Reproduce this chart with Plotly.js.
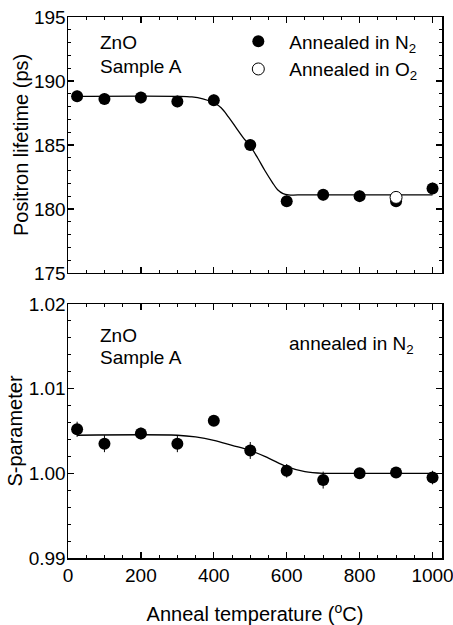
<!DOCTYPE html>
<html>
<head>
<meta charset="utf-8">
<script src="https://cdn.plot.ly/plotly-3.0.1.min.js"></script>
<style>html,body{margin:0;padding:0;background:#fff;}#chart{width:453px;height:625px;}</style>
</head>
<body>
<div id="chart"></div>
<script>
// ---- data ----
const temps = [25, 100, 200, 300, 400, 500, 600, 700, 800, 900, 1000];
const lifetimeN2 = [188.8, 188.6, 188.7, 188.4, 188.5, 185.0, 180.6, 181.1, 181.0, 180.6, 181.6];
const lifetimeErr = [0.45, 0.45, 0.45, 0.45, 0.45, 0.45, 0.45, 0.45, 0.45, 0.45, 0.45];
const tempsO2 = [900];
const lifetimeO2 = [180.9];
const fitTemps1 = [25, 300, 340, 370, 400, 420, 440, 460, 480, 500, 520, 540, 560, 575, 590, 605, 650, 800, 1000];
const fitLifetime = [188.8, 188.8, 188.75, 188.6, 188.3, 187.9, 187.2, 186.4, 185.6, 184.9, 184.0, 183.0, 182.1, 181.5, 181.2, 181.1, 181.1, 181.1, 181.1];
const sParam = [1.0052, 1.0035, 1.0047, 1.0035, 1.0062, 1.0027, 1.0003, 0.9992, 1.0000, 1.0001, 0.9995];
const sErr = [0.0009, 0.001, 0.0007, 0.001, 0.0006, 0.001, 0.0008, 0.001, 0.0006, 0.0006, 0.0008];
const fitTemps2 = [25, 300, 350, 400, 450, 500, 550, 600, 650, 700, 750, 1000];
const fitS = [1.0045, 1.0045, 1.0043, 1.0039, 1.0033, 1.0027, 1.0018, 1.0008, 1.0002, 1.0000, 1.0000, 1.0000];
const xTickVals = [0, 200, 400, 600, 800, 1000];

const FONT = '"Liberation Sans", Arial, Helvetica, sans-serif';
const FS = 19;

const traces = [
  {x: fitTemps1, y: fitLifetime, xaxis: 'x', yaxis: 'y', mode: 'lines', line: {color: '#000', width: 1.3, shape: 'spline'}, showlegend: false, hoverinfo: 'skip'},
  {x: temps, y: lifetimeN2, xaxis: 'x', yaxis: 'y', mode: 'markers', name: 'Annealed in N<sub>2</sub>',
   marker: {color: '#000', size: 12, symbol: 'circle'},
   error_y: {type: 'data', array: lifetimeErr, color: '#000', thickness: 1, width: 0}},
  {x: tempsO2, y: lifetimeO2, xaxis: 'x', yaxis: 'y', mode: 'markers', name: 'Annealed in O<sub>2</sub>',
   marker: {color: '#fff', size: 12, symbol: 'circle', line: {color: '#000', width: 1}}},
  {x: fitTemps2, y: fitS, xaxis: 'x2', yaxis: 'y2', mode: 'lines', line: {color: '#000', width: 1.3, shape: 'spline'}, showlegend: false, hoverinfo: 'skip'},
  {x: temps, y: sParam, xaxis: 'x2', yaxis: 'y2', mode: 'markers', showlegend: false,
   marker: {color: '#000', size: 12, symbol: 'circle'},
   error_y: {type: 'data', array: sErr, color: '#000', thickness: 1, width: 0}}
];

const axCommon = {
  showgrid: false, zeroline: false, showline: true, linecolor: '#000', linewidth: 1.5,
  mirror: 'ticks', ticks: 'inside', ticklen: 6, tickwidth: 1.2, tickcolor: '#000',
  ticklabeloverflow: 'allow',
  tickfont: {family: FONT, size: FS, color: '#000'}
};

const layout = {
  width: 453, height: 625,
  margin: {l: 68, r: 11, t: 17, b: 67},
  paper_bgcolor: '#fff', plot_bgcolor: '#fff',
  font: {family: FONT, size: FS, color: '#000'},
  showlegend: true,
  legend: {x: 0.426, y: 0.99, xanchor: 'left', yanchor: 'top', bgcolor: 'rgba(0,0,0,0)',
           font: {family: FONT, size: FS, color: '#000'}, itemwidth: 52, tracegroupgap: 0},
  xaxis: Object.assign({}, axCommon, {domain: [0, 1], anchor: 'y', range: [0, 1026], tickvals: xTickVals,
          showticklabels: false, minor: {dtick: 50, tick0: 0, ticks: 'inside', ticklen: 3, tickcolor: '#000', tickwidth: 1}}),
  yaxis: Object.assign({}, axCommon, {domain: [0.527, 1], anchor: 'x', range: [175, 195], dtick: 5, ticklabelstandoff: -3,
          minor: {dtick: 1, ticks: 'inside', ticklen: 3, tickcolor: '#000', tickwidth: 1},
          title: {text: 'Positron lifetime (ps)', standoff: 0, font: {family: FONT, size: 20, color: '#000'}}}),
  xaxis2: Object.assign({}, axCommon, {domain: [0, 1], anchor: 'y2', range: [0, 1026], tickvals: xTickVals,
          minor: {dtick: 50, tick0: 0, ticks: 'inside', ticklen: 3, tickcolor: '#000', tickwidth: 1},
          title: {text: 'Anneal temperature (<sup>o</sup>C)', font: {family: FONT, size: 20, color: '#000'}}}),
  yaxis2: Object.assign({}, axCommon, {domain: [0, 0.4695], anchor: 'x2', range: [0.99, 1.02], dtick: 0.01, tickformat: '.2f', ticklabelstandoff: -3,
          minor: {dtick: 0.002, ticks: 'inside', ticklen: 3, tickcolor: '#000', tickwidth: 1},
          title: {text: 'S-parameter', standoff: 0, font: {family: FONT, size: 20, color: '#000'}}}),
  annotations: [
    {xref: 'paper', yref: 'paper', x: 0.079, y: 0.952, xanchor: 'left', yanchor: 'middle', text: 'ZnO', showarrow: false, font: {family: FONT, size: FS, color: '#000'}},
    {xref: 'paper', yref: 'paper', x: 0.079, y: 0.909, xanchor: 'left', yanchor: 'middle', text: 'Sample A', showarrow: false, font: {family: FONT, size: FS, color: '#000'}},
    {xref: 'paper', yref: 'paper', x: 0.079, y: 0.412, xanchor: 'left', yanchor: 'middle', text: 'ZnO', showarrow: false, font: {family: FONT, size: FS, color: '#000'}},
    {xref: 'paper', yref: 'paper', x: 0.079, y: 0.370, xanchor: 'left', yanchor: 'middle', text: 'Sample A', showarrow: false, font: {family: FONT, size: FS, color: '#000'}},
    {xref: 'paper', yref: 'paper', x: 0.585, y: 0.394, xanchor: 'left', yanchor: 'middle', text: 'annealed in N<sub>2</sub>', showarrow: false, font: {family: FONT, size: FS, color: '#000'}}
  ]
};

Plotly.newPlot('chart', traces, layout, {displayModeBar: false, staticPlot: true});
</script>
</body>
</html>
